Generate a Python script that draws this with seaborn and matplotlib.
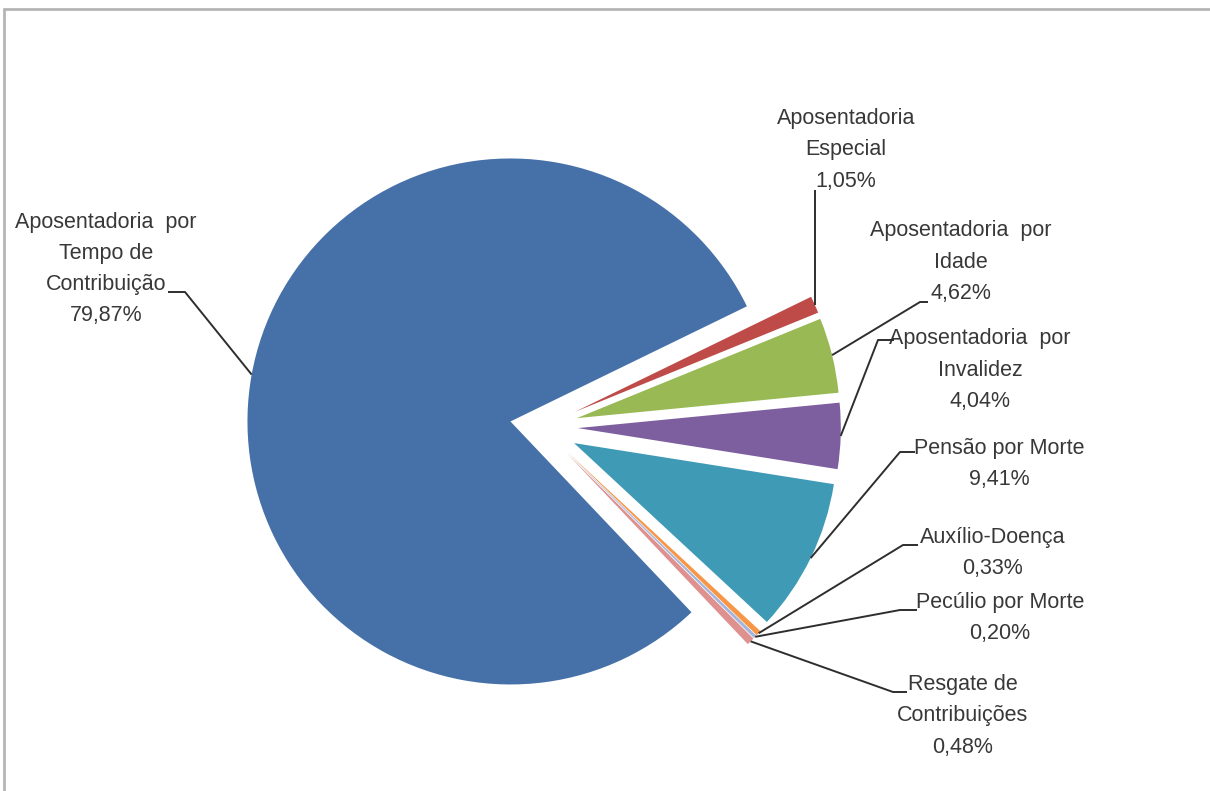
import numpy as np
import matplotlib
matplotlib.use("Agg")
import matplotlib.pyplot as plt
import seaborn as sns
from matplotlib.lines import Line2D

# ---- data ----
categories = [
    "Aposentadoria  por\nTempo de\nContribuição",
    "Aposentadoria\nEspecial",
    "Aposentadoria  por\nIdade",
    "Aposentadoria  por\nInvalidez",
    "Pensão por Morte",
    "Auxílio-Doença",
    "Pecúlio por Morte",
    "Resgate de\nContribuições",
]
shares = [79.87, 1.05, 4.62, 4.04, 9.41, 0.33, 0.20, 0.48]
share_labels = ["79,87%", "1,05%", "4,62%", "4,04%", "9,41%", "0,33%", "0,20%", "0,48%"]
colors = ["#4671A8", "#BE4B48", "#98B954", "#7D5FA0", "#3F9AB5", "#F79646", "#A3B5DC", "#DE918F"]

sns.set_theme(style="white")
plt.rcParams["font.family"] = ["Liberation Sans", "DejaVu Sans"]

W, H = 1210, 791
CX, CY, R = 541, 427, 263  # pie centre / radius in pixels (layout)

fig = plt.figure(figsize=(W / 100, H / 100), dpi=100)
ax = fig.add_axes([0, 0, 1, 1])


def px(x, y):
    return (x - CX) / R, (CY - y) / R


pal = sns.color_palette(colors)
explode = [0.118] + [0.14] * (len(shares) - 1)
wedges, _ = ax.pie(shares, colors=pal, startangle=-46.5, counterclock=False,
                   explode=explode, radius=1.0, center=(0, 0),
                   wedgeprops=dict(linewidth=0))
ax.set_xlim(-CX / R, (W - CX) / R)
ax.set_ylim(-(H - CY) / R, CY / R)
ax.set_aspect("equal", adjustable="datalim")
ax.axis("off")

# label layout (pixel coordinates): text centre, leader elbow, leader end
text_pos = [(106, 269), (846, 150), (961, 262), (980, 370),
            (999, 464), (993, 553), (1000, 618), (963, 716)]
elbows = [((185, 292), (168, 292)), (None, 190), ((920, 302), (928, 302)),
          ((878, 340), (894, 340)), ((900, 452), (915, 452)),
          ((903, 545), (918, 545)), ((900, 610), (917, 610)),
          ((893, 692), (907, 692))]

tc = "#383838"
for i, w in enumerate(wedges):
    tm = np.deg2rad(0.5 * (w.theta1 + w.theta2))
    ax_x = w.center[0] + w.r * np.cos(tm)
    ax_y = w.center[1] + w.r * np.sin(tm)
    e = elbows[i]
    if e[0] is None:
        _, ey = px(0, e[1])
        xs, ys = [ax_x, ax_x], [ax_y, ey]
    else:
        p1 = px(*e[0]); p2 = px(*e[1])
        xs, ys = [ax_x, p1[0], p2[0]], [ax_y, p1[1], p2[1]]
    ax.plot(xs, ys, color="#2E2E2E", lw=1.4, solid_capstyle="butt", zorder=5)
    tx, ty = px(*text_pos[i])
    ax.text(tx, ty, categories[i] + "\n" + share_labels[i], ha="center", va="center",
            fontsize=15.5, color=tc, linespacing=1.64)

# frame lines (top and left)
fig.add_artist(Line2D([4 / W, 1], [1 - 9 / H, 1 - 9 / H], transform=fig.transFigure,
                      color="#B5B5B5", lw=2))
fig.add_artist(Line2D([4 / W, 4 / W], [0, 1 - 9 / H], transform=fig.transFigure,
                      color="#B5B5B5", lw=2))

fig.savefig("out.png", dpi=100, facecolor="white")
